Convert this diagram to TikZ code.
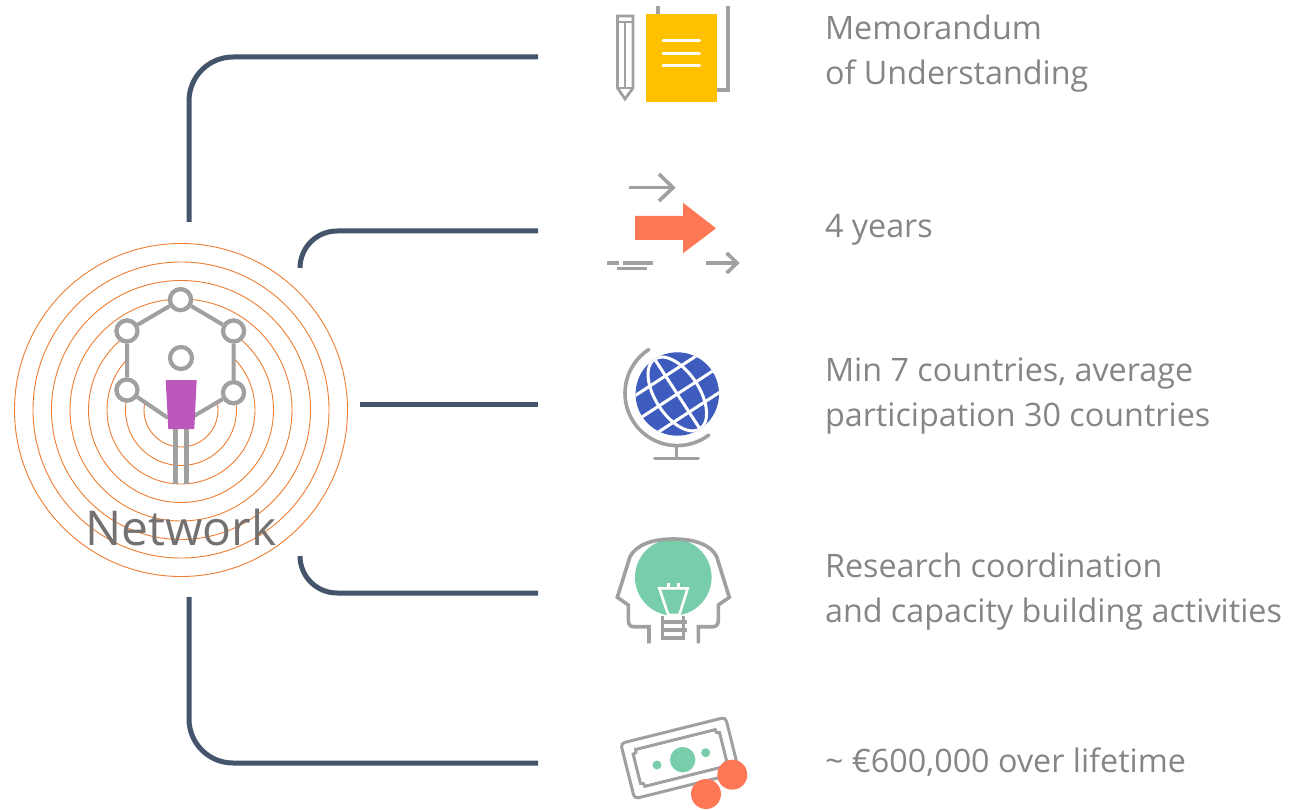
\documentclass[tikz,border=0pt]{standalone}
\usepackage{fontspec}
\setmainfont{Open Sans}
\definecolor{linkblue}{HTML}{44546A}
\definecolor{ringorange}{HTML}{ED7D31}
\definecolor{icongrey}{HTML}{A0A0A0}
\definecolor{labelgrey}{HTML}{858585}
\definecolor{netgrey}{HTML}{767171}
\definecolor{bodypurple}{HTML}{BC57BC}
\definecolor{noteyellow}{HTML}{FFC000}
\definecolor{coral}{HTML}{FF7855}
\definecolor{globeblue}{HTML}{3E5CBE}
\definecolor{mint}{HTML}{78CDAB}
\begin{document}
\begin{tikzpicture}[
    x=1pt,y=-1pt,
    link/.style={draw=linkblue,line width=5pt},
    ring/.style={draw=ringorange,line width=0.9pt},
    vertex/.style={circle,draw=icongrey,fill=white,line width=4.2pt,minimum size=21pt,inner sep=0pt},
    icon/.style={draw=icongrey,line width=3.6pt},
    dashline/.style={draw=icongrey,line width=3.6pt},
    caption/.style={anchor=west,align=left,text=labelgrey,font=\fontsize{32.3}{45}\selectfont}
]
    \useasboundingbox (0,0) rectangle (1293,810);

    % Rings of the network
    \foreach \r in {37,55.5,74,92.5,111,129.5,148,166.5}
        \draw[ring] (181,410) circle[radius=\r pt];

    % Hexagon and person
    \node[vertex] (top) at (180.5,299.7) {};
    \node[vertex] (upleft) at (127,331) {};
    \node[vertex] (upright) at (233.5,331) {};
    \node[vertex] (lowleft) at (127,390) {};
    \node[vertex] (lowright) at (233.5,392.7) {};
    \coordinate (bodyl) at (168,418);
    \coordinate (bodyr) at (194,416);
    \fill[white] (top.center) -- (upright.center) -- (lowright.center) -- (bodyr) -- (bodyl) -- (lowleft.center) -- (upleft.center) -- cycle;
    \draw[draw=icongrey,line width=4pt] (top) -- (upright) -- (lowright) -- (bodyr);
    \draw[draw=icongrey,line width=4pt] (top) -- (upleft) -- (lowleft) -- (bodyl);
    \node[vertex] at (top) {};
    \node[vertex] at (upleft) {};
    \node[vertex] at (upright) {};
    \node[vertex] at (lowleft) {};
    \node[vertex] at (lowright) {};
    \node[vertex,minimum size=22pt] (head) at (181,358) {};
    \draw[icongrey,line width=4.7pt] (175.7,429) -- (175.7,483.5);
    \draw[icongrey,line width=4.7pt] (186.3,429) -- (186.3,483.5);
    \fill[bodypurple] (165.7,380) -- (196.7,380) -- (194.3,429) -- (168.3,429) -- cycle;
    \node[text=netgrey,font=\fontsize{48}{48}\selectfont] (network) at (181,527) {Network};

    % Connectors
    \coordinate (hub1) at (189,222);
    \coordinate (hub2) at (300,268);
    \coordinate (hub3) at (360,404);
    \coordinate (hub4) at (300,556);
    \coordinate (hub5) at (189,597);
    \coordinate (end1) at (538,57);
    \coordinate (end2) at (538,231);
    \coordinate (end3) at (538,404);
    \coordinate (end4) at (538,593);
    \coordinate (end5) at (538,763);
    \draw[link,rounded corners=44pt] (hub1) |- (end1);
    \draw[link,rounded corners=37pt] (hub2) |- (end2);
    \draw[link] (hub3) -- (end3);
    \draw[link,rounded corners=37pt] (hub4) |- (end4);
    \draw[link,rounded corners=44pt] (hub5) |- (end5);

    % Memorandum icon
    \draw[icon] (657.7,6) -- (657.7,16);
    \draw[icon] (728,6) -- (728,90) -- (715,90);
    \draw[icon,line width=2.8pt,line join=miter] (617.5,88) -- (617.5,16) -- (633,16) -- (633,88) -- (625,99) -- cycle;
    \draw[icon,line width=2.8pt] (617.5,22) -- (633,22);
    \draw[icon,line width=2.8pt] (625,22) -- (625,88);
    \draw[icon,line width=2.8pt] (617.5,88) -- (633,88);
    \fill[noteyellow] (646,14) rectangle (717,102);
    \foreach \y in {41,53.3,66}
        \draw[white,line width=3pt,line cap=round] (663,\y) -- (699.5,\y);

    % Duration icon
    \draw[icon] (629,187.7) -- (673,187.7);
    \draw[icon] (659,174) -- (673,187.7) -- (659,201);
    \fill[coral] (635,216) -- (683,216) -- (683,202.7) -- (716,228.3) -- (683,253.3) -- (683,240) -- (635,240) -- cycle;
    \draw[icon] (706,263) -- (737,263);
    \draw[icon] (726.7,253) -- (737,263) -- (726.7,273);
    \draw[dashline] (607,263) -- (619,263);
    \draw[dashline] (623,263) -- (653,263);
    \draw[dashline] (617,268.7) -- (647,268.7);

    % Globe icon
    \fill[globeblue] (677.3,394) circle[radius=41.7pt];
    \begin{scope}
        \clip (677.3,394) circle[radius=41.7pt];
        \begin{scope}[shift={(677.3,394)},rotate=33]
            \foreach \y in {-21.6,0,21.6}
                \draw[white,line width=3pt] (-45,\y) -- (45,\y);
            \draw[white,line width=3pt] (0,-45) -- (0,45);
            \draw[white,line width=3pt] (0,0) circle[x radius=22pt,y radius=41.7pt];
        \end{scope}
    \end{scope}
    \draw[icon,line cap=round] (677.3,393.3) ++(123:52.3pt) arc[start angle=123,end angle=307,radius=52.3pt];
    \draw[icon] (676.3,446) -- (676.3,458.3);
    \draw[icon,line cap=round] (655,458.3) -- (698,458.3);

    % Head icon
    \fill[mint] (673.3,577.3) circle[radius=38.3pt];
    \draw[icon] (649,643.3) -- (649,626.7) -- (633.3,626.7) .. controls (630,626.7) and (628.3,624) .. (628.3,620) -- (628.3,605) -- (617.3,597.3) -- (630,556.7) .. controls (636,545) and (652,539) .. (673.3,539) .. controls (695,539) and (711,545) .. (716.7,556.7) -- (729.3,597.3) -- (718.3,605) -- (718.3,620) .. controls (718.3,624) and (716.5,626.7) .. (713.3,626.7) -- (698.3,626.7) -- (698.3,643.3);
    \draw[white,line width=2.6pt] (659.3,588.3) -- (687.7,588.3) -- (679.3,615) -- (668.3,615) -- cycle;
    \draw[white,line width=2.6pt] (668.3,583) -- (668.3,588) (678.3,583) -- (678.3,588);
    \draw[icon] (662.3,615.5) -- (662.3,637.7) -- (683.5,637.7) -- (683.5,615.5);
    \draw[icon] (662.3,621.7) -- (687,621.7);
    \draw[icon] (662.3,630) -- (687,630);

    % Money icon
    \begin{scope}[shift={(680,758)},rotate=14]
        \draw[icon,line width=3pt,rounded corners=4pt] (-54,-28.5) rectangle (54,28.5);
        \draw[icon,line width=3pt] (-41,-19) -- (41,-19) .. controls (41,-16) .. (44.5,-15) -- (44.5,15) .. controls (41,16) .. (41,19) -- (-41,19) .. controls (-41,16) .. (-44.5,15) -- (-44.5,-15) .. controls (-41,-16) .. cycle;
    \end{scope}
    \fill[mint] (682.7,759.7) circle[radius=12.7pt];
    \fill[mint] (705.7,752.7) circle[radius=4.5pt];
    \fill[mint] (657,765) circle[radius=4.5pt];
    \fill[coral] (732.3,774.7) circle[radius=15pt];
    \fill[coral] (706,794) circle[radius=15pt];

    % Labels
    \node[caption] (memo) at (821.5,54) {Memorandum\\of Understanding};
    \node[caption] (years) at (821.5,230) {4 years};
    \node[caption] (countries) at (821.5,396.5) {Min 7 countries, average\\participation 30 countries};
    \node[caption] (research) at (821.5,591.5) {Research coordination\\and capacity building activities};
    \node[caption] (money) at (821.5,762) {\textasciitilde{} €600,000 over lifetime};
\end{tikzpicture}
\end{document}
